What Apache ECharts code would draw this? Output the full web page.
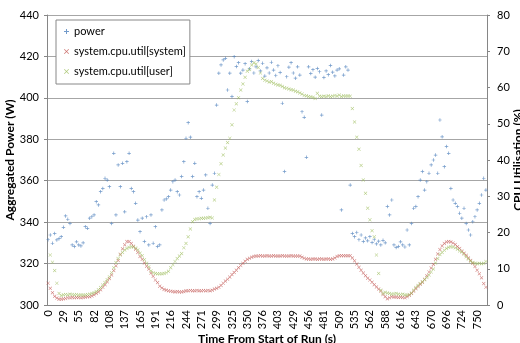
<!DOCTYPE html>
<html>
<head>
<meta charset="utf-8">
<script src="https://cdn.jsdelivr.net/npm/echarts@6/dist/echarts.min.js"></script>
<style>
  html, body { margin: 0; padding: 0; background: #fff; }
  #chart { width: 520px; height: 343px; }
</style>
</head>
<body>
<div id="chart"></div>
<script>
// tick labels, one every 7 samples
const timeLabels = ['0','29','55','82','108','137','165','191','216','244','271','299','325','350',
  '376','403','429','456','481','509','535','562','588','616','643','670','696','724','750'];

// aggregated power (W), one value per sample
const power = [
  331.5,333.8,329.8,334.5,331.4,332.0,333.0,337.5,343.0,341.4,
  339.4,329.0,328.3,330.5,329.0,328.5,330.0,337.8,337.0,341.9,
  342.6,343.5,349.9,348.3,354.7,356.3,361.2,360.3,357.1,339.4,
  373.2,343.5,367.6,357.1,368.4,345.0,369.2,373.2,356.3,354.7,
  349.1,341.0,335.4,341.9,330.6,342.6,329.0,343.5,329.8,337.8,
  328.2,329.0,345.9,350.7,351.2,352.3,355.5,359.5,360.3,354.7,
  353.1,362.0,369.2,380.5,388.0,381.0,362.0,368.4,352.3,354.7,
  351.5,355.5,362.8,346.7,339.4,357.9,363.6,396.5,411.9,415.9,
  418.3,419.1,403.8,411.9,400.6,419.9,415.1,417.0,411.9,413.4,
  416.5,398.2,414.0,417.5,412.0,415.0,418.0,413.0,416.7,410.5,
  414.5,412.0,417.2,413.4,410.8,415.5,412.3,397.4,364.4,410.2,
  414.8,417.0,412.0,409.5,415.0,411.0,393.3,390.6,371.3,415.0,
  411.8,413.6,410.0,414.2,412.6,391.7,409.8,413.0,411.2,415.6,
  412.4,410.6,413.4,414.0,345.9,411.0,415.0,413.4,357.9,334.5,
  333.0,335.0,331.5,333.8,330.6,332.4,331.0,333.0,330.2,331.5,
  329.5,330.8,329.0,331.2,330.0,347.5,343.5,350.7,329.0,327.8,
  328.2,330.5,329.0,328.0,336.2,329.0,339.4,346.7,347.5,352.3,
  360.3,364.4,355.5,359.5,363.6,367.6,370.0,372.4,363.6,389.3,
  381.2,366.8,376.5,373.2,356.3,350.7,349.1,347.5,344.3,341.9,
  346.7,339.4,336.2,333.8,340.2,342.6,345.9,349.1,353.1,361.2,
  355.5
];

// system.cpu.util[system] (%)
const cpuSystem = [
  6.0,4.6,3.4,2.4,1.9,1.6,1.6,1.7,1.8,2.0,
  2.0,2.1,2.0,2.1,2.1,2.0,2.1,2.2,2.3,2.3,
  2.5,2.8,3.2,3.6,4.2,4.9,5.6,6.4,7.3,8.3,
  9.5,10.8,12.3,14.0,15.5,16.6,17.5,17.5,17.0,16.2,
  15.4,14.5,13.4,12.6,11.6,10.7,9.9,8.8,7.9,6.9,
  6.2,5.2,4.7,4.3,4.1,3.9,3.8,3.7,3.6,3.7,
  3.6,3.6,3.7,3.9,3.9,4.0,3.9,3.9,4.0,3.9,
  3.9,4.0,3.9,4.0,3.9,4.1,4.4,4.6,4.9,5.4,
  6.0,6.6,7.1,7.7,8.4,9.0,9.6,10.3,10.9,11.5,
  12.1,12.6,12.9,13.2,13.4,13.5,13.5,13.6,13.5,13.5,
  13.6,13.5,13.5,13.6,13.5,13.5,13.5,13.6,13.5,13.5,
  13.5,13.6,13.5,13.5,13.5,13.5,13.2,12.9,12.7,12.7,
  12.6,12.7,12.7,12.6,12.7,12.7,12.6,12.7,12.7,12.6,
  12.7,13.0,13.4,13.6,13.6,13.6,13.6,13.6,13.6,13.0,
  12.2,11.3,10.4,9.6,8.8,8.1,7.4,6.9,6.3,5.6,
  5.0,4.4,3.8,2.9,2.3,1.7,2.0,2.3,2.2,2.2,
  2.1,2.2,2.1,2.0,2.3,2.7,3.2,3.8,4.5,5.1,
  5.7,6.3,7.1,8.1,9.1,10.2,11.2,12.6,14.1,15.3,
  16.3,17.0,17.4,17.5,17.4,17.1,16.7,16.1,15.6,14.9,
  14.3,13.7,13.0,12.3,11.5,10.6,9.6,8.6,7.5,5.9,
  4.9
];

// system.cpu.util[user] (%)
const cpuUser = [
  '-',13.8,11.8,9.5,6.0,3.2,2.6,2.8,2.9,2.8,
  3.0,2.9,2.8,2.9,2.7,2.8,2.7,2.8,2.9,3.0,
  3.2,3.4,3.7,4.2,4.8,5.5,6.2,7.0,7.8,8.9,
  10.3,11.7,12.8,13.8,14.5,15.2,15.6,15.9,16.1,16.0,
  15.7,15.2,14.3,13.6,12.5,11.5,10.5,9.4,8.9,8.7,
  8.6,8.6,8.6,8.7,8.9,9.3,10.3,11.1,12.0,12.8,
  13.5,14.2,15.8,17.0,18.8,21.0,23.0,23.6,23.8,23.8,
  23.9,23.9,24.0,24.1,24.2,24.0,29.0,32.5,36.0,39.0,
  41.4,43.3,44.8,46.0,49.7,53.8,55.5,57.2,59.3,61.0,
  62.8,64.5,65.0,66.2,66.8,66.5,65.5,64.0,62.5,62.0,
  61.8,61.5,61.6,61.2,60.9,60.7,60.6,60.3,59.9,59.8,
  59.6,59.4,59.3,59.0,58.8,58.5,58.2,57.8,57.7,57.5,
  57.4,57.3,57.0,58.4,57.6,57.5,57.6,57.5,57.7,57.5,
  57.6,57.8,57.6,57.9,57.5,57.7,57.6,57.7,57.6,54.2,
  50.5,46.3,43.0,38.5,34.5,30.8,26.7,23.5,20.5,18.8,
  13.8,8.7,4.1,3.2,3.5,3.3,3.2,3.0,3.1,3.2,
  3.0,2.9,3.0,2.8,2.7,2.9,3.3,4.1,4.8,5.4,
  5.9,6.4,7.0,7.6,8.3,9.1,9.9,11.6,12.8,13.9,
  14.5,15.1,15.6,15.9,16.1,16.0,15.8,15.4,14.9,14.6,
  14.0,13.3,12.7,12.1,11.7,11.5,11.4,11.5,11.4,11.5,
  12.0
];

const samples = power.map((v, i) => String(i));

const plusPath = 'path://M4,0H6V4H10V6H6V10H4V6H0V4H4Z';
const crossPath = 'path://M1,0L5,4L9,0L10,1L6,5L10,9L9,10L5,6L1,10L0,9L4,5L0,1Z';

const chart = echarts.init(document.getElementById('chart'));

const axisText = { fontFamily: 'Lato', fontSize: 11, color: '#000' };
const nameText = { fontFamily: 'Lato', fontSize: 12, fontWeight: 'bold', color: '#000' };

chart.setOption({
  animation: false,
  backgroundColor: '#fff',
  grid: { left: 47, right: 33, top: 15, bottom: 38, outerBoundsMode: 'none' },
  legend: {
    orient: 'vertical',
    left: 56,
    top: 20,
    padding: [6, 4, 7, 8],
    itemGap: 9,
    itemWidth: 5,
    itemHeight: 5,
    borderColor: '#888',
    borderWidth: 1,
    backgroundColor: '#fff',
    textStyle: { fontFamily: 'Lato', fontSize: 11, color: '#000' },
    data: ['power', 'system.cpu.util[system]', 'system.cpu.util[user]']
  },
  xAxis: {
    type: 'category',
    data: samples,
    boundaryGap: true,
    name: 'Time From Start of Run (s)',
    nameLocation: 'middle',
    nameMoveOverlap: false,
    nameGap: 28,
    nameTextStyle: nameText,
    axisLine: { lineStyle: { color: '#868686' } },
    axisTick: { interval: 0, length: 4, lineStyle: { color: '#868686' } },
    axisLabel: Object.assign({
      interval: 6,
      rotate: 90,
      margin: 5,
      formatter: (v, idx) => timeLabels[idx / 7]
    }, axisText),
    splitLine: { show: false }
  },
  yAxis: [
    {
      type: 'value',
      min: 300, max: 440, interval: 20,
      name: 'Aggregated Power (W)',
      nameLocation: 'middle',
      nameMoveOverlap: false,
      nameGap: 31,
      nameTextStyle: nameText,
      axisLine: { show: true, lineStyle: { color: '#868686' } },
      axisTick: { show: true, length: 3, lineStyle: { color: '#868686' } },
      axisLabel: Object.assign({ margin: 8 }, axisText),
      splitLine: { lineStyle: { color: '#a6a6a6' } }
    },
    {
      type: 'value',
      min: 0, max: 80, interval: 10,
      name: 'CPU Utilisation (%)',
      nameLocation: 'middle',
      nameMoveOverlap: false,
      nameGap: 25,
      nameRotate: 90,
      nameTextStyle: nameText,
      axisLine: { show: true, lineStyle: { color: '#868686' } },
      axisTick: { show: true, length: 3, lineStyle: { color: '#868686' } },
      axisLabel: Object.assign({ margin: 10 }, axisText),
      splitLine: { show: false }
    }
  ],
  series: [
    {
      name: 'power',
      type: 'scatter',
      yAxisIndex: 0,
      symbol: plusPath,
      symbolSize: 3.5,
      itemStyle: { color: '#4f81bd' },
      data: power
    },
    {
      name: 'system.cpu.util[system]',
      type: 'scatter',
      yAxisIndex: 1,
      symbol: crossPath,
      symbolSize: 3.5,
      itemStyle: { color: '#c0504d' },
      data: cpuSystem
    },
    {
      name: 'system.cpu.util[user]',
      type: 'scatter',
      yAxisIndex: 1,
      symbol: crossPath,
      symbolSize: 3.5,
      itemStyle: { color: '#9bbb59' },
      data: cpuUser
    }
  ]
});
</script>
</body>
</html>
